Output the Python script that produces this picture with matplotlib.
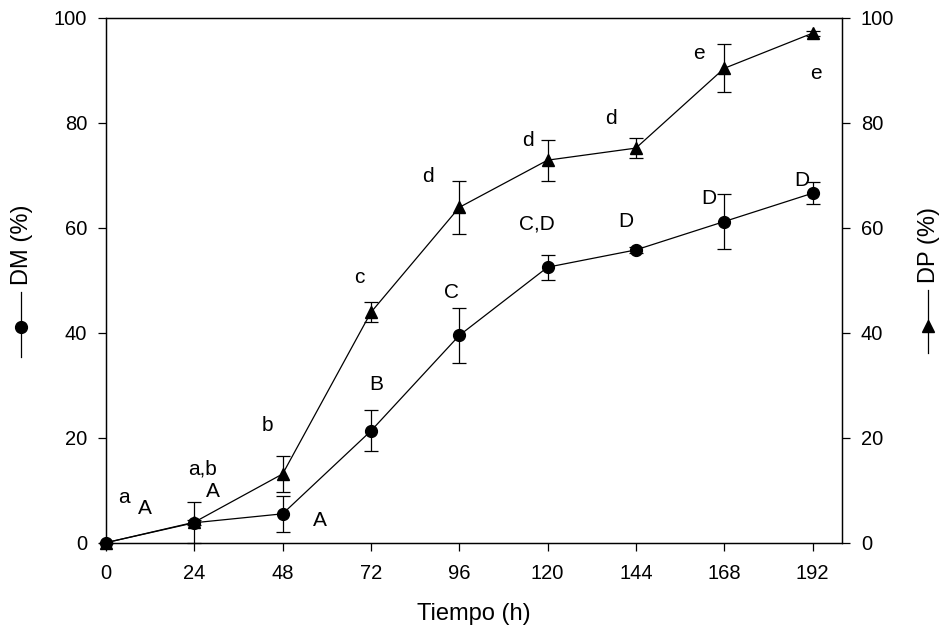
import matplotlib
matplotlib.use('Agg')
import matplotlib.pyplot as plt

plt.rcParams['font.family'] = ['Liberation Sans', 'DejaVu Sans']

# sampling times (h)
tiempo = [0, 24, 48, 72, 96, 120, 144, 168, 192]

# DM (%) with standard deviation
dm = [0.0, 3.8, 5.5, 21.3, 39.5, 52.5, 55.8, 61.2, 66.6]
dm_err = [0.0, 0.5, 3.4, 3.9, 5.2, 2.4, 0.5, 5.3, 2.1]

# DP (%) with standard deviation
dp = [0.0, 3.9, 13.1, 43.9, 63.9, 72.9, 75.2, 90.4, 97.1]
dp_err = [0.0, 3.9, 3.4, 1.9, 5.0, 3.9, 1.9, 4.6, 0.5]

# significance letters: (text, x, y)
dm_letters = [('A', 10.6, 6.6), ('A', 29.1, 9.7), ('A', 58.2, 4.3),
              ('B', 73.4, 30.1), ('C', 93.9, 47.6), ('C,D', 117.0, 60.7),
              ('D', 141.3, 61.3), ('D', 163.7, 65.5), ('D', 189.0, 69.1)]
dp_letters = [('a', 4.9, 8.7), ('a,b', 26.1, 14.0), ('b', 44.0, 22.4),
              ('c', 68.8, 50.5), ('d', 87.4, 69.8), ('d', 114.7, 76.7),
              ('d', 137.2, 80.9), ('e', 161.1, 93.3), ('e', 192.9, 89.5)]

TICK_FS = 14.5
LETTER_FS = 15
LABEL_FS = 17

fig = plt.figure(figsize=(9.43, 6.30), dpi=100)
ax = fig.add_axes([0.1124, 0.1386, 0.7805, 0.8329])
ax2 = ax.twinx()

err_style = dict(color='black', ecolor='black', elinewidth=0.9, capsize=4.7,
                 capthick=0.9, linewidth=0.9, clip_on=False)

ax.errorbar(tiempo, dm, yerr=dm_err, fmt='-o', markersize=8.5, zorder=3, **err_style)
ax2.errorbar(tiempo, dp, yerr=dp_err, fmt='-^', markersize=9, zorder=3, **err_style)

for a in (ax, ax2):
    a.set_xlim(0, 200)
    a.set_ylim(0, 100)
    a.set_yticks([0, 20, 40, 60, 80, 100])
    a.tick_params(direction='out', length=5.5, width=0.9, labelsize=TICK_FS)
    for s in a.spines.values():
        s.set_linewidth(0.9)

ax.set_xticks(tiempo)
ax.tick_params(axis='x', pad=10)
ax.tick_params(axis='y', pad=8)
ax2.tick_params(axis='y', pad=8)

for txt, x, y in dm_letters + dp_letters:
    ax.text(x, y, txt, ha='center', va='center', fontsize=LETTER_FS)

fig.text(474 / 943, 1 - 614 / 630, 'Tiempo (h)', ha='center', va='center', fontsize=LABEL_FS)

# y-axis titles with their series symbol underneath
fig.text(22 / 943, 1 - 245 / 630, 'DM (%)', rotation=90, ha='center', va='center',
         fontsize=LABEL_FS)
fig.text(929 / 943, 1 - 245 / 630, 'DP (%)', rotation=90, ha='center', va='center',
         fontsize=LABEL_FS)

fig.add_artist(plt.Line2D([20.7 / 943] * 2, [1 - 292 / 630, 1 - 357 / 630],
                          color='black', linewidth=0.9))
fig.add_artist(plt.Line2D([20.7 / 943], [1 - 327 / 630], marker='o', markersize=8.5,
                          color='black', linestyle='none'))
fig.add_artist(plt.Line2D([928 / 943] * 2, [1 - 290 / 630, 1 - 353 / 630],
                          color='black', linewidth=0.9))
fig.add_artist(plt.Line2D([928 / 943], [1 - 326 / 630], marker='^', markersize=9,
                          color='black', linestyle='none'))

fig.savefig('out.png', dpi=100)
